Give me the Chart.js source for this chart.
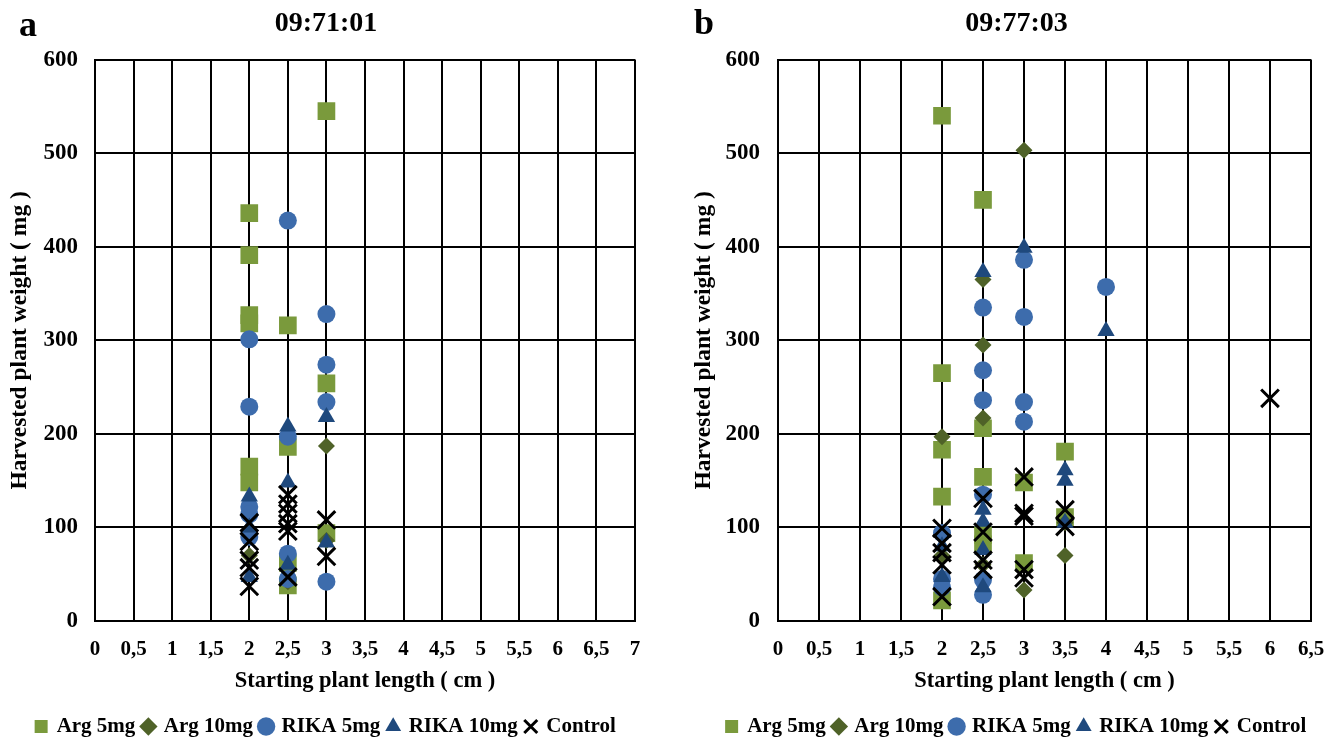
<!DOCTYPE html>
<html>
<head>
<meta charset="utf-8">
<script src="https://cdn.jsdelivr.net/npm/chart.js@4.4.1/dist/chart.umd.min.js"></script>
<style>
  body { margin:0; background:#fff; width:1343px; height:740px; position:relative; overflow:hidden; }
  canvas { position:absolute; top:0; }
  .tag { position:absolute; font:bold 36px 'Liberation Serif', serif; color:#000; line-height:1; }
</style>
</head>
<body>
<canvas id="chart-a" width="652" height="749" style="left:0"></canvas>
<canvas id="chart-b" width="653" height="749" style="left:690px"></canvas>
<div class="tag" style="left:19px;top:6px">a</div>
<div class="tag" style="left:694px;top:4px">b</div>
<script>
// ── series / ticks ──────────────────────────────────────────────
const SERIES = ['Arg 5mg', 'Arg 10mg', 'RIKA 5mg', 'RIKA 10mg', 'Control'];
const X_TICKS_A = ['0','0,5','1','1,5','2','2,5','3','3,5','4','4,5','5','5,5','6','6,5','7'];
const X_TICKS_B = ['0','0,5','1','1,5','2','2,5','3','3,5','4','4,5','5','5,5','6','6,5'];
const Y_TICKS = ['0','100','200','300','400','500','600'];

// panel a : 09:71:01   [starting length cm, harvested weight mg]
const A_ARG5   = [[2,436],[2,391],[2,327],[2,318],[2,165],[2,148],[2.5,316],[2.5,186],[2.5,62],[2.5,38],[3,545],[3,254],[3,94]];
const A_ARG10  = [[2,70],[2.5,42],[3,187],[3,86]];
const A_RIKA5  = [[2,301],[2,229],[2,122],[2,114],[2,90],[2.5,428],[2.5,197],[2.5,72],[2.5,45],[3,328],[3,274],[3,234],[3,42]];
const A_RIKA10 = [[2,133],[2,100],[2,47],[2.5,208],[2.5,148],[2.5,60],[3,218],[3,84]];
const A_CTRL   = [[2,105],[2,85],[2,65],[2,57],[2,37],[2.5,135],[2.5,125],[2.5,115],[2.5,104],[2.5,96],[2.5,47],[3,108],[3,69]];

// panel b : 09:77:03
const B_ARG5   = [[2,540],[2,265],[2,183],[2,133],[2,22],[2.5,450],[2.5,206],[2.5,154],[2.5,92],[2.5,82],[3,148],[3,62],[3.5,181],[3.5,111]];
const B_ARG10  = [[2,197],[2,70],[2.5,365],[2.5,295],[2.5,217],[2.5,60],[3,503],[3,33],[3.5,105],[3.5,70]];
const B_RIKA5  = [[2,94],[2,45],[2,36],[2.5,335],[2.5,268],[2.5,236],[2.5,135],[2.5,44],[2.5,28],[3,386],[3,325],[3,234],[3,213],[4,357]];
const B_RIKA10 = [[2,80],[2,47],[2.5,373],[2.5,119],[2.5,106],[2.5,76],[2.5,36],[3,399],[3.5,161],[3.5,150],[3.5,105],[4,310]];
const B_CTRL   = [[2,99],[2,83],[2,73],[2,60],[2,26],[2.5,131],[2.5,95],[2.5,65],[2.5,55],[3,154],[3,115],[3,112],[3,55],[3,46],[3.5,119],[3.5,101],[6,238]];

// ── styles ──────────────────────────────────────────────────────
const FONT = "'Liberation Serif', 'Times New Roman', serif";
const STYLES = [
  { pointStyle:'rect',     color:'#7a9a3c', r:12.5, bw:0, order:5 },
  { pointStyle:'rectRot',  color:'#4f6228', r:8.5,  bw:0, order:4 },
  { pointStyle:'circle',   color:'#3d6cac', r:9,    bw:0, order:3 },
  { pointStyle:'triangle', color:'#1f497d', r:10,   bw:0, order:2 },
  { pointStyle:'crossRot', color:'#000000', r:12.5, bw:3, order:1 }
];

function makeChart(id, title, xMax, xTicks, series, geo) {
  const datasets = series.map((pts, i) => {
    const s = STYLES[i];
    return {
      label: SERIES[i],
      data: pts.map(p => ({ x:p[0], y:p[1] })),
      pointStyle: s.pointStyle,
      backgroundColor: s.color,
      borderColor: s.color,
      borderWidth: s.bw ? 2.5 : 0,
      pointRadius: s.r,
      pointBorderWidth: s.bw,
      order: s.order
    };
  });
  return new Chart(document.getElementById(id), {
    type: 'scatter',
    data: { datasets },
    options: {
      responsive: false, animation: false,
      layout: { padding: { left:0, right:0, top:0, bottom:2 } },
      plugins: {
        tooltip: { enabled:false },
        title: { display:true, text:title, color:'#000',
          font:{ family:FONT, size:28, weight:'bold' }, padding:{ top:7, bottom:19 } },
        legend: { position:'bottom',
          labels: { usePointStyle:true, boxWidth:10, boxHeight:13, padding:8, color:'#000',
            font:{ family:FONT, size:21, weight:'bold' },
            sort: (a, b) => a.datasetIndex - b.datasetIndex } }
      },
      scales: {
        x: {
          type:'linear', min:0, max:xMax,
          afterFit: s => { s.height = 87; s.paddingLeft = 0; s.paddingRight = 0; },
          grid: { color:'#000', lineWidth:2, drawTicks:false },
          border: { color:'#000', width:2 },
          ticks: { stepSize:0.5, padding:16, color:'#000', autoSkip:false, maxRotation:0,
            font:{ family:FONT, size:21, weight:'bold' },
            callback: v => xTicks[Math.round(v * 2)] },
          title: { display:true, text:'Starting plant length ( cm )', color:'#000',
            font:{ family:FONT, size:22.5, weight:'bold' }, padding:{ top:0, bottom:13 } }
        },
        y: {
          min:0, max:600,
          afterFit: s => { s.width = geo.yWidth; },
          grid: { color:'#000', lineWidth:2, drawTicks:false },
          border: { color:'#000', width:2 },
          ticks: { stepSize:100, padding:geo.tickPad, color:'#000',
            font:{ family:FONT, size:23, weight:'bold' },
            callback: v => Y_TICKS[Math.round(v / 100)] },
          title: { display:true, text:'Harvested plant weight ( mg )', color:'#000',
            font:{ family:FONT, size:23.5, weight:'bold' }, padding:{ top:geo.titlePad, bottom:0 } }
        },
        // blank right-hand gutter so title and legend stay centred on the whole panel
        gutter: {
          position:'right', display:true,
          afterFit: s => { s.width = geo.gutter; },
          grid: { display:false }, border: { display:false }, ticks: { display:false }
        }
      }
    }
  });
}

makeChart('chart-a', '09:71:01', 7, X_TICKS_A,
  [A_ARG5, A_ARG10, A_RIKA5, A_RIKA10, A_CTRL],
  { yWidth:95, gutter:17, tickPad:17, titlePad:6 });
makeChart('chart-b', '09:77:03', 6.5, X_TICKS_B,
  [B_ARG5, B_ARG10, B_RIKA5, B_RIKA10, B_CTRL],
  { yWidth:88, gutter:32, tickPad:18, titlePad:0 });
</script>
</body>
</html>
